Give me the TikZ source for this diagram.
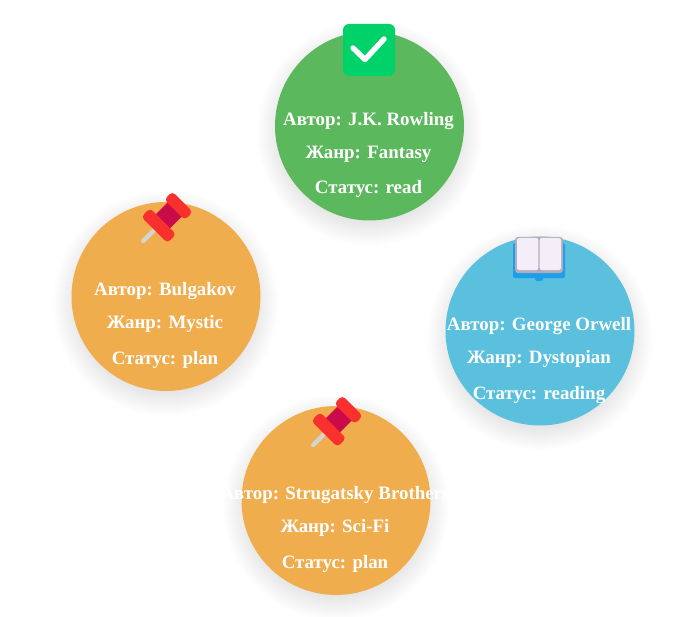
\documentclass[tikz,border=0pt]{standalone}
\usepackage{fontspec}
\setmainfont{Liberation Serif}
\usepackage{xcolor}
\usepackage{tikz}
\definecolor{cardgreen}{HTML}{5CB85C}
\definecolor{cardorange}{HTML}{F0AD4E}
\definecolor{cardblue}{HTML}{5BC0DE}
\definecolor{checkgreen}{HTML}{00D26A}
\definecolor{pinred}{HTML}{F8312F}
\definecolor{pindark}{HTML}{CA0B4A}
\definecolor{pingrey}{HTML}{D3D3D3}
\definecolor{bookblue}{HTML}{1C9FE8}
\definecolor{bookgrey}{HTML}{B4ACBC}
\definecolor{bookpage}{HTML}{F3EEF8}
\tikzset{
    cardline/.style={text=white,font=\fontsize{18.9}{22}\selectfont\bfseries,anchor=base,inner sep=0pt},
    carddisc/.style={circle,minimum size=189pt,inner sep=0pt},
    pics/pinicon/.style={code={
        \begin{scope}[rotate=-45]
            \draw[pingrey,line width=4.5pt,line cap=round] (0,18) -- (0,36);
            \fill[pindark] (-10,-10) rectangle (10,10);
            \fill[pinred,rounded corners=4pt] (-14.5,-19.5) rectangle (14.5,-8);
            \fill[pinred,rounded corners=4pt] (-18.5,8) rectangle (18.5,20.5);
        \end{scope}
    }},
    pics/checkicon/.style={code={
        \fill[checkgreen,rounded corners=6pt] (-26,-26) rectangle (26,26);
        \draw[white,line width=5.4pt,line cap=round,line join=round] (-16,-2) -- (-4,9.5) -- (15,-11);
    }},
    pics/bookicon/.style={code={
        % blue cover
        \fill[bookblue,rounded corners=2pt] (-26,-17) rectangle (26,18);
        \fill[bookblue,rounded corners=2pt] (-4,15) rectangle (4,21);
        % page block
        \fill[bookgrey,rounded corners=3pt] (-24,-23) rectangle (24,13);
        \fill[bookpage,rounded corners=2pt] (-22,-22) rectangle (-0.7,10);
        \fill[bookpage,rounded corners=2pt] (0.7,-22) rectangle (22,10);
    }}
}
\begin{document}
\begin{tikzpicture}[x=1pt,y=-1pt]
    \useasboundingbox (0,0) rectangle (676,617);
    % soft shadows
    \foreach \cx/\cy in {369.5/126,166/296.5,540/331,336/500.5} {
        \foreach \r in {113,112,...,88} {\fill[black,opacity=0.005] (\cx,\cy+7) circle (\r);}
    }
    % discs with their three text lines
    \foreach \name/\cx/\cy/\col/\who/\genre/\state in {
        rowling/369.5/126/cardgreen/J.K. Rowling/Fantasy/read,
        bulgakov/166/296.5/cardorange/Bulgakov/Mystic/plan,
        orwell/540/331/cardblue/George Orwell/Dystopian/reading,
        strugatsky/336/500.5/cardorange/Strugatsky Brothers/Sci-Fi/plan} {
        \node[carddisc,fill=\col] (\name) at (\cx,\cy) {};
        \node[cardline] (\name-who) at (\cx-1,\cy-0.7) {Автор: \who};
        \node[cardline] (\name-genre) at (\cx-1,\cy+32.3) {Жанр: \genre};
        \node[cardline] (\name-state) at (\cx-1,\cy+68) {Статус: \state};
    }
    % icons on top
    \pic at (369,50) {checkicon};
    \pic at (168.8,215.5) {pinicon};
    \pic at (338.8,419.5) {pinicon};
    \pic at (539,260) {bookicon};
\end{tikzpicture}
\end{document}
